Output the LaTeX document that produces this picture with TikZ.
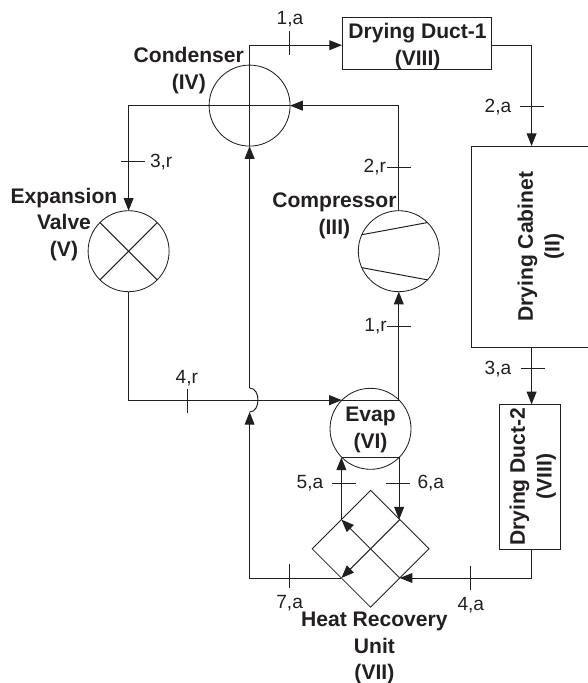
\documentclass[tikz,border=0pt]{standalone}
\usepackage{fontspec}
\setmainfont{Liberation Sans}
\usetikzlibrary{arrows.meta,shapes.geometric}
\definecolor{ink}{RGB}{35,31,32}
\tikzset{
	part/.style={draw=ink,line width=.6pt,circle,inner sep=0pt,outer sep=0pt,minimum size=2.025cm},
	box/.style={draw=ink,line width=.7pt,inner sep=0pt,outer sep=0pt},
	title/.style={align=center,text=ink,inner sep=0pt,font=\bfseries\fontsize{15}{19}\selectfont},
	state/.style={text=ink,inner sep=0pt,font=\fontsize{13.6}{16}\selectfont},
	line/.style={draw=ink,line width=.7pt},
	flow/.style={line,-{Triangle[length=9pt,width=7pt]}}
}
\begin{document}
\begin{tikzpicture}
	\useasboundingbox (0,0) rectangle (14.7,-17.075);
	\node[part] (Cond) at (6.24,-2.64) {};
	\node[part] (Valve) at (3.215,-6.28) {};
	\node[part] (Comp) at (9.97,-6.28) {};
	\node[part] (Evap) at (9.263,-10.72) {};
	\node[draw=ink,line width=.6pt,diamond,aspect=1,inner sep=0pt,outer sep=0pt,minimum width=2.92cm,minimum height=2.92cm] (HRU) at (9.265,-13.72) {};
	\node[box,minimum width=3.74cm,minimum height=1.31cm] (Duct1) at (10.42,-1.08) {};
	\node[box,minimum width=3.03cm,minimum height=5.04cm] (Cabinet) at (13.29,-6.17) {};
	\node[box,minimum width=1.51cm,minimum height=3.635cm] (Duct2) at (13.246,-11.925) {};
	\node[title] (Duct1T) at (10.44,-1.16) {Drying Duct-1\\(VIII)};
	\node[title,rotate=90] (CabinetT) at (13.52,-6.17) {Drying Cabinet\\(II)};
	\node[title,rotate=90] (Duct2T) at (13.32,-11.92) {Drying Duct-2\\(VIII)};
	\node[title] (CondT) at (4.72,-1.77) {Condenser\\(IV)};
	\node[title] (ValveT) at (1.6,-5.61) {Expansion\\Valve\\(V)};
	\node[title] (CompT) at (8.36,-5.4) {Compressor\\(III)};
	\node[title] (EvapT) at (9.263,-10.75) {Evap\\(VI)};
	\node[title] (HRUT) at (9.36,-16.2) {Heat Recovery\\Unit\\(VII)};
	\node[state] (S1a) at (7.25,-.48) {1,a};
	\node[state] (S2a) at (12.45,-2.68) {2,a};
	\node[state] (S3a) at (12.45,-9.22) {3,a};
	\node[state] (S4a) at (11.77,-15.13) {4,a};
	\node[state] (S5a) at (7.75,-12.07) {5,a};
	\node[state] (S6a) at (10.77,-12.07) {6,a};
	\node[state] (S7a) at (7.24,-15.08) {7,a};
	\node[state] (S1r) at (9.39,-8.16) {1,r};
	\node[state] (S2r) at (9.37,-4.17) {2,r};
	\node[state] (S3r) at (4.03,-4.05) {3,r};
	\node[state] (S4r) at (4.67,-9.45) {4,r};
	\coordinate (J1) at (6.24,-10.3);
	\coordinate (J2) at (6.45,-10);
	\coordinate (J3) at (6.24,-9.7);
	\draw[line] (Cond.west) -- (Cond.east);
	\draw[flow] (Cond.south) |- ([yshift=-.05cm]Duct1.west);
	\draw[flow] ([yshift=-.05cm]Duct1.east) -| (Cabinet.north);
	\draw[flow] (Cabinet.south) -- (Cabinet.south |- Duct2.north);
	\draw[flow] (Cabinet.south |- Duct2.south) |- (HRU.south east);
	\draw[flow] (HRU.south east) -- (HRU.north west);
	\draw[flow] (HRU.north east) -- (HRU.south west);
	\draw[flow] (HRU.north west) -- (HRU.north west |- Evap.-135);
	\draw[flow] (Evap.-45) -- (Evap.-45 |- HRU.north east);
	\draw[flow] (HRU.south west) -| (J1);
	\draw[line] (J1) to[out=0,in=-90] (J2) to[out=90,in=0] (J3);
	\draw[flow] (J3) -- (Cond.south);
	\draw[flow] (Cond.west) -| (Valve.north);
	\draw[flow] (Valve.south) |- (Evap.135);
	\draw[flow] (Comp.south |- Evap.45) -- (Comp.south);
	\draw[flow] (Comp.north) |- (Cond.east);
	\draw[line] (Evap.135) -- (Evap.45);
	\draw[line] (Evap.-135) -- (Evap.-45);
	\draw[line] (Valve.45) -- (Valve.-135);
	\draw[line] (Valve.135) -- (Valve.-45);
	\draw[line] (Comp.156) -- (Comp.45);
	\draw[line] (Comp.204) -- (Comp.-45);
	\foreach \x/\y in {7.24/-1.075,4.675/-10.025,7.23/-14.39,11.77/-14.44}
		\draw[line] (\x,\y+.3) -- (\x,\y-.3);
	\foreach \x/\y in {13.31/-2.67,3.32/-4.025,9.97/-4.175,9.97/-8.16,13.32/-9.22,8.61/-12.09,9.96/-12.09}
		\draw[line] (\x-.3,\y) -- (\x+.3,\y);
\end{tikzpicture}
\end{document}
